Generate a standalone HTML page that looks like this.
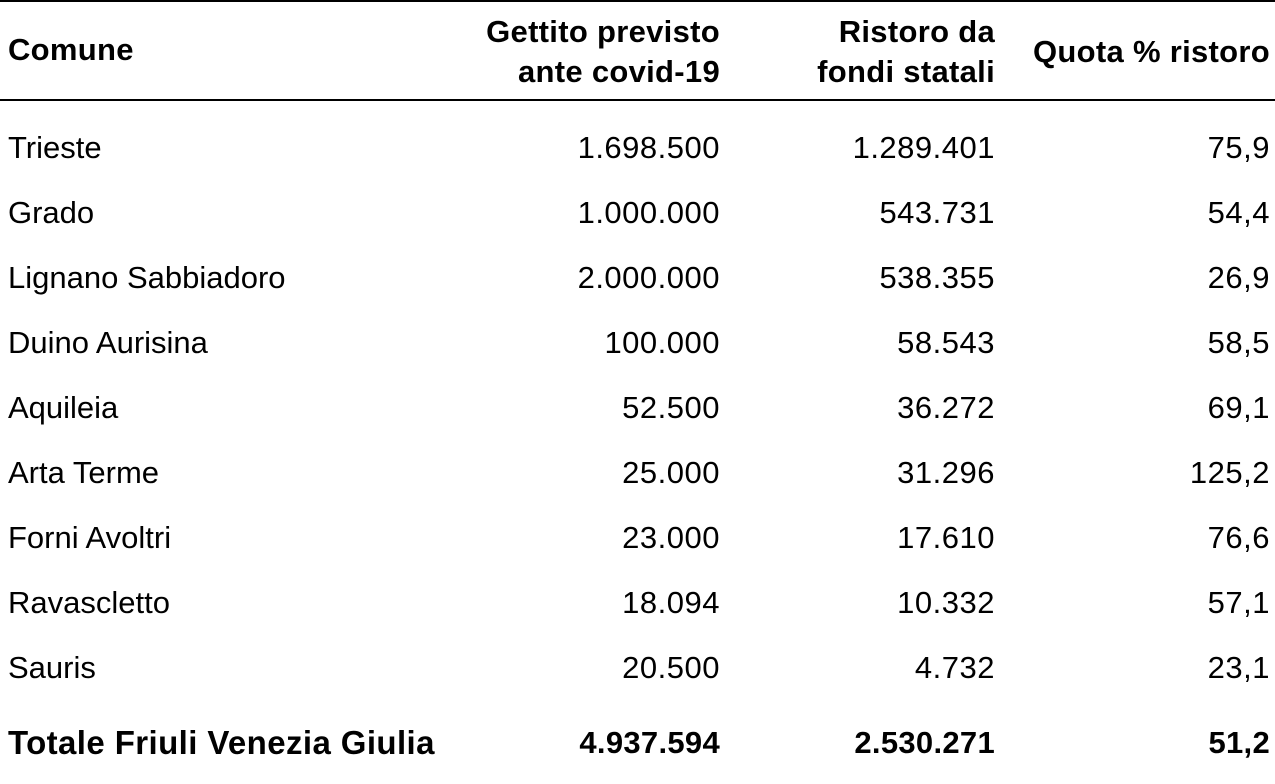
<!DOCTYPE html>
<html><head><style>
body{margin:0;width:1275px;height:784px;background:#fff;position:relative;overflow:hidden;font-family:"Liberation Sans",Arial,sans-serif;font-size:31px;color:#000}
.r{position:absolute;height:40px;line-height:40px;white-space:nowrap}
.l{left:8px}
.c2{right:555px;text-align:right;letter-spacing:0.5px}
.c3{right:280px;text-align:right;letter-spacing:0.5px}
.c4{right:5px;text-align:right;letter-spacing:0.5px}
.b{font-weight:bold;letter-spacing:0.3px}
.t{font-size:33px;letter-spacing:0.4px}
.line{position:absolute;left:0;width:1275px;background:#000}
</style></head><body>
<div class="line" style="top:0;height:2px"></div>
<div class="line" style="top:99px;height:2px"></div>
<div class="r l b" style="top:30px">Comune</div>
<div class="r c2 b" style="top:12px">Gettito previsto</div>
<div class="r c2 b" style="top:52px">ante covid-19</div>
<div class="r c3 b" style="top:12px">Ristoro da</div>
<div class="r c3 b" style="top:52px">fondi statali</div>
<div class="r c4 b" style="top:32px">Quota % ristoro</div>

<div class="r l" style="top:128px">Trieste</div><div class="r c2" style="top:128px">1.698.500</div><div class="r c3" style="top:128px">1.289.401</div><div class="r c4" style="top:128px">75,9</div>
<div class="r l" style="top:193px">Grado</div><div class="r c2" style="top:193px">1.000.000</div><div class="r c3" style="top:193px">543.731</div><div class="r c4" style="top:193px">54,4</div>
<div class="r l" style="top:258px">Lignano Sabbiadoro</div><div class="r c2" style="top:258px">2.000.000</div><div class="r c3" style="top:258px">538.355</div><div class="r c4" style="top:258px">26,9</div>
<div class="r l" style="top:323px">Duino Aurisina</div><div class="r c2" style="top:323px">100.000</div><div class="r c3" style="top:323px">58.543</div><div class="r c4" style="top:323px">58,5</div>
<div class="r l" style="top:388px">Aquileia</div><div class="r c2" style="top:388px">52.500</div><div class="r c3" style="top:388px">36.272</div><div class="r c4" style="top:388px">69,1</div>
<div class="r l" style="top:453px">Arta Terme</div><div class="r c2" style="top:453px">25.000</div><div class="r c3" style="top:453px">31.296</div><div class="r c4" style="top:453px">125,2</div>
<div class="r l" style="top:518px">Forni Avoltri</div><div class="r c2" style="top:518px">23.000</div><div class="r c3" style="top:518px">17.610</div><div class="r c4" style="top:518px">76,6</div>
<div class="r l" style="top:583px">Ravascletto</div><div class="r c2" style="top:583px">18.094</div><div class="r c3" style="top:583px">10.332</div><div class="r c4" style="top:583px">57,1</div>
<div class="r l" style="top:648px">Sauris</div><div class="r c2" style="top:648px">20.500</div><div class="r c3" style="top:648px">4.732</div><div class="r c4" style="top:648px">23,1</div>
<div class="r l b t" style="top:723px">Totale Friuli Venezia Giulia</div><div class="r c2 b" style="top:723px">4.937.594</div><div class="r c3 b" style="top:723px">2.530.271</div><div class="r c4 b" style="top:723px">51,2</div>
</body></html>
